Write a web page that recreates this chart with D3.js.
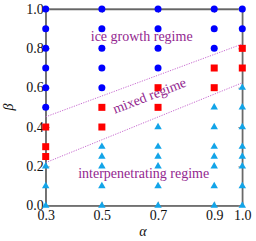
<!DOCTYPE html>
<html><head><meta charset="utf-8">
<script src="https://cdn.jsdelivr.net/npm/d3@7"></script>
<style>body{margin:0;background:#fff}svg{display:block}</style>
</head><body>
<script>
const alphaTicks = [0.3, 0.5, 0.7, 0.9, 1.0];
const betaTicks = [0.0, 0.2, 0.4, 0.6, 0.8, 1.0];
const iceGrowth = [[0.3,1.0],[0.3,0.9],[0.3,0.8],[0.3,0.7],[0.3,0.6],[0.3,0.5],
  [0.5,1.0],[0.5,0.9],[0.5,0.8],[0.5,0.7],[0.5,0.6],
  [0.7,1.0],[0.7,0.9],[0.7,0.8],[0.7,0.7],
  [0.9,1.0],[0.9,0.9],[0.9,0.8],
  [1.0,1.0],[1.0,0.9]];
const mixed = [[0.3,0.4],[0.3,0.3],[0.3,0.25],[0.5,0.5],[0.5,0.4],[0.7,0.6],[0.7,0.5],
  [0.9,0.7],[0.9,0.6],[1.0,0.8],[1.0,0.7]];
const interpenetrating = [[0.3,0.2],[0.3,0.1],[0.3,0.0],
  [0.5,0.3],[0.5,0.25],[0.5,0.2],[0.5,0.1],[0.5,0.0],
  [0.7,0.4],[0.7,0.3],[0.7,0.25],[0.7,0.2],[0.7,0.1],[0.7,0.0],
  [0.9,0.5],[0.9,0.4],[0.9,0.3],[0.9,0.25],[0.9,0.2],[0.9,0.1],[0.9,0.0],
  [1.0,0.6],[1.0,0.5],[1.0,0.4],[1.0,0.3],[1.0,0.25],[1.0,0.2],[1.0,0.1],[1.0,0.0]];
const upperBoundary = [[0.3,0.452],[1.0,0.822]];
const lowerBoundary = [[0.3,0.219],[1.0,0.625]];

const W = 256, H = 241;
const svg = d3.select("body").append("svg").attr("width", W).attr("height", H);
const x = d3.scaleLinear().domain([0.3, 1.0]).range([45.7, 242.3]);
const y = d3.scaleLinear().domain([0, 1]).range([205.7, 9]);
const font = "'Liberation Serif','Times New Roman',serif";
const purple = "#93278f";

// frame
svg.append("rect").attr("x", x(0.3)).attr("y", y(1)).attr("width", x(1)-x(0.3)).attr("height", y(0)-y(1))
  .attr("fill", "none").attr("stroke", "#777").attr("stroke-width", 1.3);

// axes
const xAx = svg.append("g").attr("transform", `translate(0,${y(0)})`)
  .call(d3.axisBottom(x).tickValues(alphaTicks).tickFormat(d3.format(".1f")).tickSizeInner(-4).tickSizeOuter(0).tickPadding(6));
const xAxTop = svg.append("g").attr("transform", `translate(0,${y(1)})`)
  .call(d3.axisTop(x).tickValues(alphaTicks).tickFormat("").tickSizeInner(-4).tickSizeOuter(0));
const yAx = svg.append("g").attr("transform", `translate(${x(0.3)},0)`)
  .call(d3.axisLeft(y).tickValues(betaTicks).tickFormat(d3.format(".1f")).tickSizeInner(-4).tickSizeOuter(0).tickPadding(2));
const yAxR = svg.append("g").attr("transform", `translate(${x(1)},0)`)
  .call(d3.axisRight(y).tickValues(betaTicks).tickFormat("").tickSizeInner(-4).tickSizeOuter(0));
[xAx, xAxTop, yAx, yAxR].forEach(g => {
  g.select(".domain").attr("stroke", "#666").attr("stroke-width", 1.3);
  g.selectAll(".tick line").attr("stroke", "#999").attr("stroke-width", 1);
  g.selectAll("text").attr("font-family", font).attr("font-size", 14).attr("fill", "#111");
});
xAx.selectAll("text").attr("dy", "0.62em");
yAx.selectAll("text").attr("dy", "0.3em");

// boundary lines
const line = d3.line().x(d => x(d[0])).y(d => y(d[1]));
[upperBoundary, lowerBoundary].forEach(b => {
  svg.append("path").attr("d", line(b)).attr("fill", "none").attr("stroke", "#c86ad0")
    .attr("stroke-width", 1).attr("stroke-dasharray", "1.2,1.3");
});

// markers
svg.append("g").selectAll("circle").data(iceGrowth).join("circle")
  .attr("cx", d => x(d[0])).attr("cy", d => y(d[1])).attr("r", 3.5).attr("fill", "#0000ff");
svg.append("g").selectAll("rect").data(mixed).join("rect")
  .attr("x", d => x(d[0]) - 3.5).attr("y", d => y(d[1]) - 3.5).attr("width", 7).attr("height", 7).attr("fill", "#ff0000");
const tri = d3.symbol().type(d3.symbolTriangle).size(24);
svg.append("g").selectAll("path").data(interpenetrating).join("path")
  .attr("transform", d => `translate(${x(d[0])},${y(d[1])})`).attr("d", tri).attr("fill", "#12a4e8");

// region labels
svg.append("text").attr("x", 141.7).attr("y", 41).attr("text-anchor", "middle")
  .attr("font-family", font).attr("font-size", 14).attr("fill", purple).text("ice growth regime");
svg.append("text").attr("transform", "translate(151,100) rotate(-21)").attr("text-anchor", "middle")
  .attr("font-family", font).attr("font-size", 14).attr("fill", purple).text("mixed regime");
svg.append("text").attr("x", 143.7).attr("y", 177.7).attr("text-anchor", "middle")
  .attr("font-family", font).attr("font-size", 14).attr("fill", purple).text("interpenetrating regime");

// axis titles
svg.append("text").attr("x", 143).attr("y", 236).attr("text-anchor", "middle")
  .attr("font-family", font).attr("font-size", 14).attr("font-style", "italic").attr("fill", "#111").text("α");
svg.append("text").attr("transform", "translate(13,107) rotate(-90)").attr("text-anchor", "middle")
  .attr("font-family", font).attr("font-size", 14).attr("font-style", "italic").attr("fill", "#111").text("β");
</script>
</body></html>
